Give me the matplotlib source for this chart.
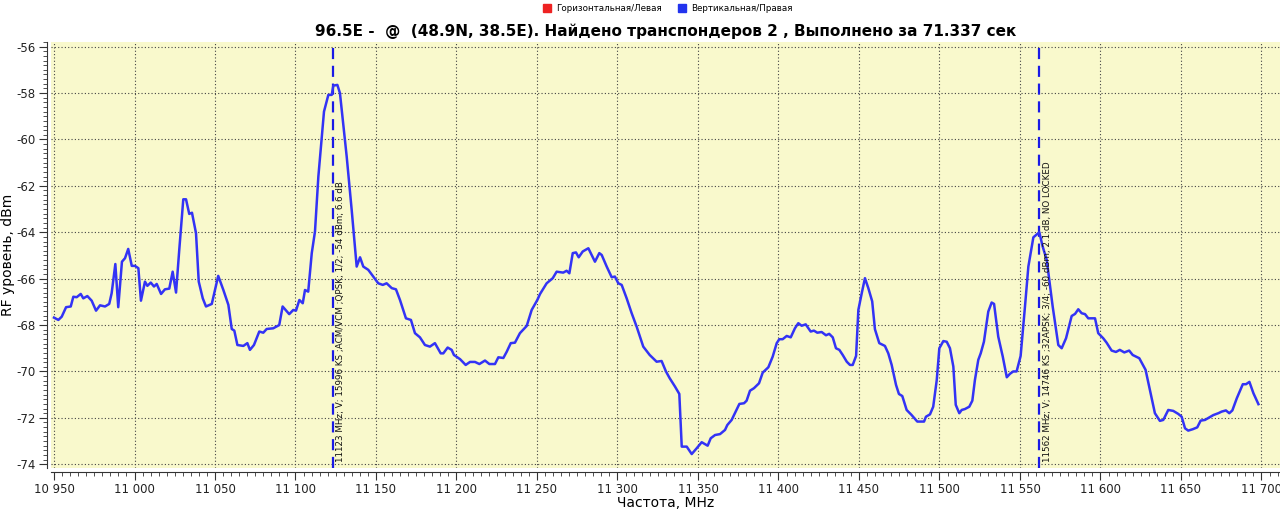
import matplotlib
matplotlib.use("Agg")
import matplotlib.pyplot as plt
from matplotlib.ticker import MultipleLocator, FuncFormatter
from matplotlib.lines import Line2D

# ---- data ----
freq_mhz = [
    10950.0, 10952.7, 10954.8, 10957.5, 10960.4, 10962.0, 10964.1, 10966.6, 10968.2, 10970.7,
    10973.4, 10976.1, 10978.6, 10981.7, 10984.3, 10985.8, 10988.1, 10989.9, 10992.2, 10994.1,
    10996.1, 10998.3, 11000.3, 11002.4, 11004.0, 11006.5, 11008.0, 11010.1, 11012.1, 11013.8,
    11016.5, 11018.9, 11021.6, 11023.7, 11025.8, 11027.8, 11030.3, 11032.0, 11034.0, 11035.7,
    11038.2, 11039.9, 11042.4, 11044.4, 11048.0, 11052.0, 11055.2, 11058.3, 11060.4, 11062.0,
    11063.9, 11067.6, 11070.1, 11071.7, 11074.2, 11077.5, 11080.0, 11082.1, 11086.2, 11089.9,
    11092.0, 11096.1, 11098.6, 11100.3, 11102.4, 11104.5, 11105.9, 11107.9, 11110.1, 11112.1,
    11114.2, 11117.7, 11120.4, 11122.5, 11123.5, 11126.0, 11127.6, 11131.8, 11134.9, 11138.0,
    11140.1, 11142.1, 11145.2, 11148.3, 11151.4, 11154.2, 11156.6, 11159.8, 11162.4, 11164.9,
    11168.6, 11171.7, 11174.2, 11177.3, 11180.4, 11183.5, 11186.6, 11190.2, 11191.8, 11194.5,
    11197.0, 11198.4, 11202.2, 11205.7, 11208.4, 11211.5, 11214.2, 11217.7, 11220.4, 11223.9,
    11226.0, 11229.1, 11231.2, 11233.7, 11236.3, 11239.4, 11243.6, 11246.7, 11250.2, 11251.9,
    11256.0, 11259.8, 11262.2, 11266.3, 11268.4, 11270.1, 11272.2, 11274.2, 11275.9, 11278.4,
    11281.9, 11286.0, 11288.7, 11290.2, 11293.3, 11296.4, 11298.4, 11300.5, 11302.6, 11305.7,
    11308.8, 11311.9, 11316.0, 11320.0, 11324.3, 11327.4, 11330.1, 11332.4, 11335.7, 11338.4,
    11339.9, 11343.0, 11346.1, 11349.2, 11352.3, 11356.0, 11357.9, 11360.6, 11363.7, 11366.8,
    11368.2, 11370.9, 11373.4, 11375.7, 11378.6, 11380.2, 11382.3, 11384.8, 11387.9, 11390.2,
    11393.7, 11396.4, 11398.9, 11400.5, 11402.6, 11405.1, 11407.6, 11410.2, 11412.3, 11414.4,
    11416.9, 11420.0, 11422.0, 11424.1, 11426.8, 11429.5, 11431.5, 11433.7, 11435.7, 11437.8,
    11439.9, 11442.4, 11444.4, 11446.1, 11448.2, 11449.6, 11451.7, 11453.7, 11455.8, 11458.2,
    11459.9, 11462.6, 11466.1, 11468.2, 11470.3, 11473.0, 11474.8, 11476.9, 11479.6, 11482.7,
    11486.2, 11490.4, 11491.6, 11494.1, 11496.1, 11498.3, 11499.9, 11502.4, 11504.5, 11506.5,
    11508.6, 11510.1, 11512.3, 11513.8, 11515.8, 11518.5, 11520.4, 11522.0, 11524.1, 11525.6,
    11527.6, 11530.3, 11532.4, 11533.9, 11536.5, 11539.3, 11541.8, 11543.8, 11545.8, 11547.9,
    11550.4, 11553.1, 11555.2, 11558.3, 11562.0, 11564.1, 11566.6, 11570.3, 11573.8, 11575.9,
    11578.6, 11582.1, 11584.2, 11586.2, 11588.3, 11590.4, 11592.4, 11596.6, 11598.6, 11601.7,
    11603.8, 11606.9, 11609.6, 11612.0, 11614.8, 11617.8, 11620.0, 11624.1, 11628.0, 11630.7,
    11633.8, 11636.9, 11639.0, 11642.1, 11645.2, 11648.3, 11650.4, 11652.5, 11654.5, 11657.3,
    11660.1, 11662.2, 11664.9, 11667.6, 11670.1, 11673.2, 11675.3, 11677.9, 11680.0, 11681.9,
    11684.7, 11688.4, 11690.4, 11692.5, 11695.0, 11698.1,
]
level_v_dbm = [
    -67.68, -67.78, -67.64, -67.23, -67.20, -66.78, -66.80, -66.66, -66.85, -66.75,
    -66.95, -67.38, -67.15, -67.20, -67.09, -66.63, -65.37, -67.23, -65.27, -65.12,
    -64.72, -65.45, -65.45, -65.55, -66.95, -66.13, -66.31, -66.17, -66.34, -66.23,
    -66.66, -66.46, -66.43, -65.70, -66.60, -64.76, -62.58, -62.58, -63.21, -63.16,
    -64.04, -66.13, -66.85, -67.20, -67.09, -65.88, -66.49, -67.13, -68.17, -68.24,
    -68.86, -68.90, -68.78, -69.07, -68.86, -68.28, -68.33, -68.17, -68.14, -68.00,
    -67.20, -67.53, -67.35, -67.38, -66.92, -67.06, -66.49, -66.56, -64.90, -63.97,
    -61.60, -58.80, -58.08, -58.08, -57.68, -57.65, -58.00, -60.74, -63.04, -65.48,
    -65.08, -65.48, -65.62, -65.91, -66.20, -66.27, -66.20, -66.41, -66.46, -66.92,
    -67.71, -67.78, -68.35, -68.53, -68.86, -68.93, -68.78, -69.22, -69.22, -68.97,
    -69.07, -69.29, -69.47, -69.72, -69.59, -69.59, -69.68, -69.53, -69.68, -69.68,
    -69.39, -69.42, -69.15, -68.78, -68.76, -68.35, -68.04, -67.35, -66.92, -66.66,
    -66.20, -65.98, -65.70, -65.74, -65.66, -65.77, -64.90, -64.87, -65.08, -64.83,
    -64.69, -65.27, -64.90, -64.98, -65.48, -65.94, -65.91, -66.20, -66.27, -66.85,
    -67.49, -68.07, -68.93, -69.29, -69.58, -69.55, -70.00, -70.29, -70.65, -70.97,
    -73.24, -73.24, -73.56, -73.31, -73.05, -73.20, -72.88, -72.74, -72.70, -72.52,
    -72.31, -72.09, -71.73, -71.40, -71.37, -71.26, -70.83, -70.72, -70.51, -70.05,
    -69.82, -69.36, -68.78, -68.61, -68.61, -68.47, -68.53, -68.14, -67.92, -68.03,
    -67.97, -68.28, -68.24, -68.33, -68.30, -68.44, -68.38, -68.53, -69.00, -69.07,
    -69.29, -69.58, -69.72, -69.72, -69.33, -67.35, -66.63, -65.98, -66.41, -66.98,
    -68.18, -68.78, -68.90, -69.22, -69.72, -70.58, -70.97, -71.06, -71.66, -71.88,
    -72.16, -72.16, -71.95, -71.85, -71.52, -70.37, -69.00, -68.69, -68.72, -69.00,
    -69.79, -71.44, -71.80, -71.66, -71.62, -71.52, -71.26, -70.37, -69.50, -69.22,
    -68.72, -67.42, -67.03, -67.09, -68.50, -69.36, -70.25, -70.10, -70.00, -70.00,
    -69.33, -67.20, -65.48, -64.22, -64.00, -64.62, -65.19, -67.20, -68.86, -69.00,
    -68.57, -67.61, -67.52, -67.32, -67.49, -67.53, -67.71, -67.71, -68.35, -68.57,
    -68.76, -69.10, -69.16, -69.07, -69.18, -69.10, -69.29, -69.43, -69.93, -70.80,
    -71.80, -72.13, -72.09, -71.66, -71.70, -71.83, -71.95, -72.45, -72.55, -72.49,
    -72.41, -72.12, -72.09, -71.98, -71.88, -71.80, -71.73, -71.68, -71.80, -71.68,
    -71.15, -70.55, -70.55, -70.45, -70.94, -71.41,
]
transponder_freqs = [11123, 11562]
transponder_labels = [
    "11123 MHz; V; 15996 KS ;ACM/VCM ;QPSK; 1/2; -54 dBm; 6.6 dB",
    "11562 MHz; V; 14746 KS ;32APSK; 3/4; -60 dBm; 2.1 dB, NO LOCKED",
]
legend_labels = ["Горизонтальная/Левая", "Вертикальная/Правая"]
title_text = "96.5E -  @  (48.9N, 38.5E). Найдено транспондеров 2 , Выполнено за 71.337 сек"

# ---- figure ----
plt.rcParams['font.family'] = ['DejaVu Sans']
fig = plt.figure(figsize=(12.8, 5.12), dpi=100)
ax = fig.add_axes([0.0398, 0.086, 0.9602, 0.832])
ax.set_facecolor('#F9F9CC')

ax.plot(freq_mhz, level_v_dbm, color='#3333F5', lw=1.8, zorder=3)

for f, lab in zip(transponder_freqs, transponder_labels):
    ax.axvline(f, color='#1A1AE6', lw=1.6, ls=(0, (5, 3)), zorder=2)
    ax.text(f + 2.0, -73.9, lab, rotation=90, fontsize=6.3, ha='left', va='bottom',
            color='#111111', zorder=4)

ax.set_xlim(10948.1, 11711.5)
ax.set_ylim(-74.16, -55.8)

ax.xaxis.set_major_locator(MultipleLocator(50))
ax.xaxis.set_minor_locator(MultipleLocator(5))
ax.yaxis.set_major_locator(MultipleLocator(2))
ax.yaxis.set_minor_locator(MultipleLocator(0.2))

fmt_thousands = FuncFormatter(lambda v, p: f"{int(round(v)):,}".replace(",", " "))
ax.xaxis.set_major_formatter(fmt_thousands)
ax.yaxis.set_major_formatter(FuncFormatter(lambda v, p: f"{int(round(v))}"))

ax.grid(True, which='major', color='#444444', ls=(0, (1, 2)), lw=0.8)
ax.set_axisbelow(True)

for s in ['top', 'right']:
    ax.spines[s].set_visible(False)
ax.spines['left'].set_position(('outward', 3))
ax.spines['bottom'].set_position(('outward', 3))
ax.spines['left'].set_color('#333333')
ax.spines['bottom'].set_color('#333333')

ax.tick_params(axis='both', which='major', direction='out', length=6, labelsize=8.5,
               color='#333333', labelcolor='#222222')
ax.tick_params(axis='both', which='minor', direction='out', length=3, color='#333333')
ax.tick_params(axis='x', pad=2)
ax.tick_params(axis='y', pad=2)

ax.set_xlabel("Частота, MHz", fontsize=10, labelpad=0)
ax.set_ylabel("RF уровень, dBm", fontsize=10, labelpad=1)

ax.set_title(title_text, fontsize=11, fontweight='bold', pad=4)

handles = [Line2D([], [], marker='s', ls='none', color='#EE2222', markersize=5.5),
           Line2D([], [], marker='s', ls='none', color='#2233EE', markersize=5.5)]
ax.legend(handles, legend_labels, loc='lower center', bbox_to_anchor=(0.5, 1.055),
          ncol=2, frameon=False, fontsize=6.3, handletextpad=0.1, columnspacing=1.2,
          borderpad=0.1)

fig.savefig("out.png", dpi=100)
